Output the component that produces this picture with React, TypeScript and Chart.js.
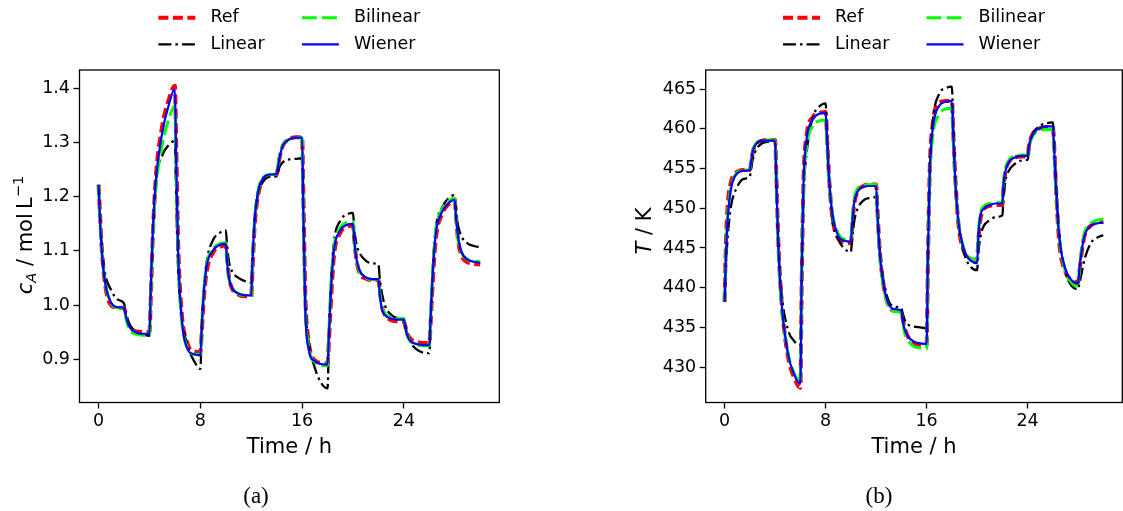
import { useEffect, useRef } from "react";
import { Chart, registerables } from "chart.js";

Chart.register(...registerables);
Chart.defaults.font.family = '"DejaVu Sans", sans-serif';

// ---------- data ----------
const TIME = [
  0, 0.1, 0.25, 0.5, 1, 1.5,
  2, 2.1, 2.25, 2.5, 3, 3.5,
  4, 4.1, 4.25, 4.5, 5, 5.5,
  6, 6.1, 6.25, 6.5, 7, 7.5,
  8, 8.1, 8.25, 8.5, 9, 9.5,
  10, 10.1, 10.25, 10.5, 11, 11.5,
  12, 12.1, 12.25, 12.5, 13, 13.5,
  14, 14.1, 14.25, 14.5, 15, 15.5,
  16, 16.1, 16.25, 16.5, 17, 17.5,
  18, 18.1, 18.25, 18.5, 19, 19.5,
  20, 20.1, 20.25, 20.5, 21, 21.5,
  22, 22.1, 22.25, 22.5, 23, 23.5,
  24, 24.1, 24.25, 24.5, 25, 25.5,
  26, 26.1, 26.25, 26.5, 27, 27.5,
  28, 28.1, 28.25, 28.5, 29, 29.5,
  30,
];

const CA_REF = [
  1.222, 1.175, 1.105, 1.04, 0.999, 0.995,
  0.995, 0.988, 0.972, 0.958, 0.951, 0.95,
  0.95, 1.01, 1.12, 1.235, 1.33, 1.378,
  1.405, 1.3, 1.12, 0.995, 0.928, 0.915,
  0.913, 0.945, 1.005, 1.062, 1.097, 1.107,
  1.11, 1.088, 1.052, 1.03, 1.019, 1.016,
  1.016, 1.065, 1.14, 1.198, 1.233, 1.239,
  1.24, 1.253, 1.274, 1.295, 1.306, 1.31,
  1.31, 1.2, 1.02, 0.935, 0.898, 0.893,
  0.892, 0.93, 1.0, 1.09, 1.133, 1.144,
  1.147, 1.122, 1.087, 1.06, 1.049, 1.046,
  1.046, 1.03, 1.0, 0.982, 0.972, 0.97,
  0.97, 0.962, 0.948, 0.938, 0.932, 0.93,
  0.93, 0.965, 1.035, 1.12, 1.168, 1.186,
  1.192, 1.165, 1.122, 1.093, 1.079, 1.076,
  1.075,
];
const CA_LINEAR = [
  1.222, 1.17, 1.11, 1.06, 1.027, 1.01,
  1.003, 0.99, 0.975, 0.962, 0.95, 0.946,
  0.943, 1.02, 1.12, 1.225, 1.276, 1.295,
  1.303, 1.2, 1.07, 0.985, 0.925, 0.897,
  0.882, 0.94, 1.02, 1.08, 1.12, 1.133,
  1.138, 1.11, 1.08, 1.062, 1.05, 1.044,
  1.041, 1.09, 1.15, 1.2, 1.23, 1.237,
  1.238, 1.245, 1.256, 1.264, 1.269, 1.27,
  1.271, 1.15, 1.01, 0.935, 0.884, 0.856,
  0.846, 0.93, 1.03, 1.115, 1.156, 1.167,
  1.17, 1.14, 1.115, 1.097, 1.082, 1.077,
  1.075, 1.05, 1.025, 1.0, 0.982, 0.976,
  0.975, 0.962, 0.948, 0.932, 0.918, 0.912,
  0.911, 0.97, 1.06, 1.14, 1.18, 1.197,
  1.203, 1.175, 1.148, 1.128, 1.114, 1.109,
  1.107,
];
const CA_BILINEAR = [
  1.222, 1.16, 1.1, 1.043, 1.003, 0.995,
  0.995, 0.983, 0.966, 0.952, 0.946, 0.944,
  0.944, 1.02, 1.12, 1.215, 1.295, 1.342,
  1.368, 1.25, 1.09, 0.98, 0.92, 0.909,
  0.908, 0.955, 1.02, 1.075, 1.104, 1.113,
  1.115, 1.082, 1.05, 1.032, 1.021, 1.018,
  1.018, 1.08, 1.152, 1.207, 1.237, 1.241,
  1.242, 1.258, 1.278, 1.296, 1.306, 1.309,
  1.309, 1.16, 0.995, 0.925, 0.894, 0.889,
  0.888, 0.945, 1.03, 1.105, 1.143, 1.152,
  1.154, 1.12, 1.088, 1.063, 1.051, 1.047,
  1.047, 1.025, 1.0, 0.985, 0.977, 0.975,
  0.975, 0.96, 0.945, 0.933, 0.927, 0.925,
  0.925, 0.975, 1.055, 1.135, 1.177, 1.192,
  1.197, 1.158, 1.122, 1.098, 1.084, 1.081,
  1.08,
];
const CA_WIENER = [
  1.222, 1.163, 1.1, 1.043, 1.004, 0.996,
  0.995, 0.985, 0.97, 0.957, 0.949, 0.947,
  0.947, 1.03, 1.13, 1.23, 1.318, 1.368,
  1.399, 1.27, 1.1, 0.985, 0.918, 0.909,
  0.907, 0.955, 1.015, 1.072, 1.101, 1.111,
  1.113, 1.08, 1.05, 1.031, 1.021, 1.018,
  1.018, 1.08, 1.15, 1.205, 1.236, 1.241,
  1.242, 1.255, 1.275, 1.295, 1.306, 1.309,
  1.309, 1.17, 0.99, 0.92, 0.896, 0.891,
  0.89, 0.94, 1.02, 1.1, 1.138, 1.148,
  1.15, 1.12, 1.088, 1.065, 1.051, 1.048,
  1.048, 1.02, 0.995, 0.982, 0.975, 0.973,
  0.973, 0.96, 0.945, 0.934, 0.928, 0.926,
  0.926, 0.975, 1.05, 1.13, 1.172, 1.188,
  1.194, 1.16, 1.128, 1.1, 1.084, 1.08,
  1.078,
];

const T_REF = [
  438.2, 445.5, 450.5, 453.3, 454.6, 454.8,
  454.8, 455.8, 457.2, 458.1, 458.5, 458.6,
  458.6, 454.0, 446.0, 438.5, 431.5, 428.7,
  427.4, 440.0, 453.5, 459.2, 461.5, 462.0,
  462.1, 459.5, 454.5, 449.3, 446.2, 445.7,
  445.6, 447.5, 450.3, 452.0, 452.8, 453.0,
  453.0, 450.0, 445.5, 441.3, 437.7, 437.1,
  437.0, 436.2, 435.0, 433.9, 433.0, 432.8,
  432.7, 443.0, 455.0, 460.8, 463.3, 463.5,
  463.5, 460.0, 454.5, 448.3, 444.4, 443.6,
  443.5, 446.0, 448.5, 449.8, 450.3, 450.4,
  450.4, 452.8, 454.7, 455.8, 456.4, 456.5,
  456.5, 457.8, 458.8, 459.6, 460.1, 460.2,
  460.2, 458.0, 452.5, 445.8, 442.0, 440.9,
  440.7, 442.0, 444.0, 446.5, 447.8, 448.2,
  448.3,
];
const T_LINEAR = [
  438.2, 442.5, 446.5, 450.2, 452.7, 453.7,
  454.0, 455.0, 456.3, 457.4, 458.2, 458.4,
  458.5, 453.0, 445.5, 439.5, 434.8, 433.3,
  432.8, 441.0, 451.5, 457.0, 461.5, 462.8,
  463.2, 460.0, 454.5, 449.0, 446.1, 444.9,
  444.5, 446.0, 448.2, 449.8, 451.0, 451.3,
  451.4, 449.0, 445.5, 441.8, 438.3, 437.6,
  437.4, 436.8, 436.0, 435.4, 435.1, 435.0,
  434.9, 444.0, 454.0, 461.0, 464.4, 465.1,
  465.3, 461.0, 455.0, 448.5, 444.2, 442.6,
  442.2, 444.5, 446.3, 447.7, 448.5, 448.9,
  449.1, 451.5, 453.5, 454.7, 455.6, 456.0,
  456.1, 457.2, 458.5, 459.6, 460.4, 460.7,
  460.8, 458.5, 453.5, 447.0, 442.0, 440.2,
  439.8, 440.5, 441.6, 443.5, 445.6, 446.3,
  446.6,
];
const T_BILINEAR = [
  438.2, 444.5, 449.2, 452.6, 454.5, 454.8,
  454.9, 456.0, 457.3, 458.2, 458.5, 458.6,
  458.6, 453.0, 445.0, 438.0, 431.9, 429.3,
  428.1, 442.0, 452.5, 457.8, 460.4, 461.0,
  461.1, 458.5, 454.2, 449.8, 446.8, 446.1,
  446.0, 448.5, 451.0, 452.4, 452.9, 453.0,
  453.0, 449.5, 445.0, 441.0, 437.6, 437.0,
  436.8, 435.8, 434.4, 433.4, 432.6, 432.4,
  432.3, 443.0, 453.5, 459.2, 461.8, 462.5,
  462.6, 459.0, 453.8, 448.6, 444.7, 443.7,
  443.5, 447.0, 449.3, 450.2, 450.6, 450.7,
  450.7, 453.5, 455.0, 456.0, 456.6, 456.7,
  456.7, 457.8, 458.6, 459.3, 459.8, 459.9,
  459.9, 457.2, 452.2, 446.5, 442.1, 440.6,
  440.2, 442.3, 444.6, 446.9, 448.1, 448.5,
  448.6,
];
const T_WIENER = [
  438.2, 444.0, 448.8, 452.4, 454.4, 454.7,
  454.8, 456.0, 457.3, 458.1, 458.5, 458.5,
  458.5, 453.0, 445.3, 438.3, 431.8, 429.1,
  427.9, 442.0, 453.5, 458.8, 461.2, 461.9,
  462.0, 459.0, 454.3, 449.7, 446.5, 445.9,
  445.8, 448.0, 450.6, 452.0, 452.7, 452.8,
  452.8, 449.5, 445.2, 441.3, 437.9, 437.3,
  437.1, 436.0, 434.8, 433.9, 433.2, 433.0,
  432.9, 444.0, 454.8, 460.2, 462.9, 463.4,
  463.5, 459.5, 454.0, 448.6, 444.6, 443.4,
  443.1, 446.5, 449.0, 449.9, 450.4, 450.6,
  450.6, 453.2, 454.7, 455.8, 456.4, 456.6,
  456.6, 457.8, 458.7, 459.5, 460.1, 460.3,
  460.3, 457.5, 452.5, 446.5, 442.3, 440.9,
  440.5, 442.3, 444.3, 446.5, 447.8, 448.1,
  448.2,
];

const X_TICKS = [0, 8, 16, 24];
const CA_TICKS = [0.9, 1.0, 1.1, 1.2, 1.3, 1.4];
const T_TICKS = [430, 435, 440, 445, 450, 455, 460, 465];
const SERIES = ["Ref", "Linear", "Bilinear", "Wiener"];
const X_TITLE = "Time / h";
const CAPTIONS = ["(a)", "(b)"];

// ---------- styles ----------
const STYLE: Record<string, { color: string; width: number; dash: number[] }> = {
  Ref: { color: "#ff0000", width: 4, dash: [10, 4.5] },
  Linear: { color: "#000000", width: 2.3, dash: [13, 4, 2.5, 4] },
  Bilinear: { color: "#00ff00", width: 3, dash: [15, 5] },
  Wiener: { color: "#0000ff", width: 2.2, dash: [] },
};

const FAMILY = '"DejaVu Sans"';
const TICK_FONT = 17.5;
const LABEL_FONT = 21;
const XH = 58;
const CHART_BOTTOM = 402.5;

type Piece = { t: string; f: string; dy: number };

type Panel = {
  values: Record<string, number[]>;
  yMin: number;
  yMax: number;
  yTicks: number[];
  fmt: (v: number) => string;
  yW: number;
  padRight: number;
  label: Piece[];
  labelX: number;
  labelY: number;
};

const PANEL_A: Panel = {
  values: { Ref: CA_REF, Linear: CA_LINEAR, Bilinear: CA_BILINEAR, Wiener: CA_WIENER },
  yMin: 0.82,
  yMax: 1.434,
  yTicks: CA_TICKS,
  fmt: (v) => v.toFixed(1),
  yW: 79.5,
  padRight: 61.7,
  label: [
    { t: "c", f: `italic ${LABEL_FONT}px ${FAMILY}`, dy: 0 },
    { t: "A", f: `italic 14.7px ${FAMILY}`, dy: 4.5 },
    { t: " / mol\u2009L", f: `${LABEL_FONT}px ${FAMILY}`, dy: 0 },
    { t: "\u22121", f: `14.7px ${FAMILY}`, dy: -8.5 },
  ],
  labelX: 31.7,
  labelY: 235,
};

const PANEL_B: Panel = {
  values: { Ref: T_REF, Linear: T_LINEAR, Bilinear: T_BILINEAR, Wiener: T_WIENER },
  yMin: 425.55,
  yMax: 467.4,
  yTicks: T_TICKS,
  fmt: (v) => String(v),
  yW: 144.7,
  padRight: 0.7,
  label: [
    { t: "T", f: `italic ${LABEL_FONT}px ${FAMILY}`, dy: 0 },
    { t: " / K", f: `${LABEL_FONT}px ${FAMILY}`, dy: 0 },
  ],
  labelX: 90,
  labelY: 231,
};

const framePlugin = {
  id: "frame",
  afterDatasetsDraw(chart: any) {
    const { ctx, chartArea } = chart;
    ctx.save();
    ctx.strokeStyle = "#000";
    ctx.lineWidth = 1.3;
    ctx.setLineDash([]);
    ctx.strokeRect(chartArea.left, chartArea.top, chartArea.right - chartArea.left, chartArea.bottom - chartArea.top);
    ctx.restore();
  },
};

function ylabelPlugin(p: Panel) {
  return {
    id: "ylabel",
    afterDraw(chart: any) {
      const ctx = chart.ctx as CanvasRenderingContext2D;
      ctx.save();
      ctx.fillStyle = "#000";
      ctx.textBaseline = "alphabetic";
      ctx.textAlign = "left";
      let total = 0;
      const widths = p.label.map((pc) => {
        ctx.font = pc.f;
        const w = ctx.measureText(pc.t).width;
        total += w;
        return w;
      });
      ctx.translate(p.labelX, p.labelY);
      ctx.rotate(-Math.PI / 2);
      let x = -total / 2;
      p.label.forEach((pc, i) => {
        ctx.font = pc.f;
        ctx.fillText(pc.t, x, pc.dy);
        x += widths[i];
      });
      ctx.restore();
    },
  };
}

const legendPlugin = {
  id: "customLegend",
  afterDraw(chart: any) {
    const { ctx, chartArea } = chart;
    const cx = (chartArea.left + chartArea.right) / 2;
    const cols = [cx - 131, cx + 12.5];
    const rows = [17.8, 44.4];
    ctx.save();
    SERIES.forEach((name, i) => {
      const col = Math.floor(i / 2);
      const row = i % 2;
      const x0 = cols[col];
      const y = rows[row];
      const st = STYLE[name];
      ctx.strokeStyle = st.color;
      ctx.lineWidth = st.width;
      ctx.lineCap = "butt";
      ctx.setLineDash(st.dash);
      ctx.beginPath();
      ctx.moveTo(x0, y);
      ctx.lineTo(x0 + 37, y);
      ctx.stroke();
      ctx.setLineDash([]);
      ctx.fillStyle = "#000";
      ctx.font = `${TICK_FONT}px ${FAMILY}`;
      ctx.textBaseline = "middle";
      ctx.textAlign = "left";
      ctx.fillText(name, x0 + 52, y);
    });
    ctx.restore();
  },
};

function buildConfig(p: Panel): any {
  const mk = (name: string) => {
    const st = STYLE[name];
    const vals = p.values[name];
    return {
      label: name,
      data: TIME.map((t, i) => ({ x: t, y: vals[i] })),
      borderColor: st.color,
      backgroundColor: st.color,
      borderWidth: st.width,
      borderDash: st.dash,
      borderCapStyle: "butt",
      borderJoinStyle: "round",
      pointRadius: 0,
      fill: false,
      cubicInterpolationMode: "monotone",
    };
  };
  const gridOpts = {
    display: true,
    drawOnChartArea: false,
    drawTicks: true,
    tickLength: 6,
    tickWidth: 1.3,
    tickColor: "#000",
    color: "#000",
  };
  return {
    type: "line",
    data: { datasets: ["Wiener", "Bilinear", "Linear", "Ref"].map(mk) },
    options: {
      responsive: false,
      animation: false,
      devicePixelRatio: 1,
      events: [],
      layout: { padding: { left: 0, right: p.padRight, top: 70, bottom: 511 - CHART_BOTTOM - XH } },
      plugins: { legend: { display: false }, tooltip: { enabled: false }, title: { display: false } },
      scales: {
        x: {
          type: "linear",
          min: -1.5,
          max: 31.5,
          afterBuildTicks: (s: any) => {
            s.ticks = X_TICKS.map((v) => ({ value: v }));
          },
          afterFit: (s: any) => {
            s.height = XH;
            s.paddingLeft = 0;
            s.paddingRight = 0;
          },
          ticks: {
            font: { size: TICK_FONT },
            color: "#000",
            padding: 2.5,
            maxRotation: 0,
            autoSkip: false,
            callback: (v: number) => String(v),
          },
          grid: gridOpts,
          border: { display: false },
          title: {
            display: true,
            text: X_TITLE,
            color: "#000",
            font: { size: LABEL_FONT },
            padding: { top: 0, bottom: 0 },
          },
        },
        y: {
          type: "linear",
          min: p.yMin,
          max: p.yMax,
          afterBuildTicks: (s: any) => {
            s.ticks = p.yTicks.map((v) => ({ value: v }));
          },
          afterFit: (s: any) => {
            s.width = p.yW;
            s.paddingTop = 0;
            s.paddingBottom = 0;
          },
          ticks: {
            font: { size: TICK_FONT },
            color: "#000",
            padding: 3.5,
            autoSkip: false,
            callback: (v: number) => p.fmt(v),
          },
          grid: gridOpts,
          border: { display: false },
        },
      },
    },
    plugins: [framePlugin, ylabelPlugin(p), legendPlugin],
  };
}

const captionStyle = (cx: number): any => ({
  position: "absolute",
  left: cx - 40,
  width: 80,
  top: 483,
  height: 26,
  lineHeight: "26px",
  textAlign: "center",
  fontFamily: '"Liberation Serif", serif',
  fontSize: 23,
  color: "#000",
});

export default function App() {
  const refA = useRef<HTMLCanvasElement>(null);
  const refB = useRef<HTMLCanvasElement>(null);
  useEffect(() => {
    const a = new Chart(refA.current as HTMLCanvasElement, buildConfig(PANEL_A));
    const b = new Chart(refB.current as HTMLCanvasElement, buildConfig(PANEL_B));
    return () => {
      a.destroy();
      b.destroy();
    };
  }, []);
  return (
    <div
      style={{
        position: "fixed",
        left: 0,
        top: 0,
        width: 1123,
        height: 511,
        background: "#fff",
        overflow: "hidden",
      }}
    >
      <canvas
        ref={refA}
        width={561}
        height={511}
        style={{ position: "absolute", left: 0, top: 0, width: 561, height: 511 }}
      />
      <canvas
        ref={refB}
        width={562}
        height={511}
        style={{ position: "absolute", left: 561, top: 0, width: 562, height: 511 }}
      />
      <div style={captionStyle(256)}>{CAPTIONS[0]}</div>
      <div style={captionStyle(879)}>{CAPTIONS[1]}</div>
    </div>
  );
}
